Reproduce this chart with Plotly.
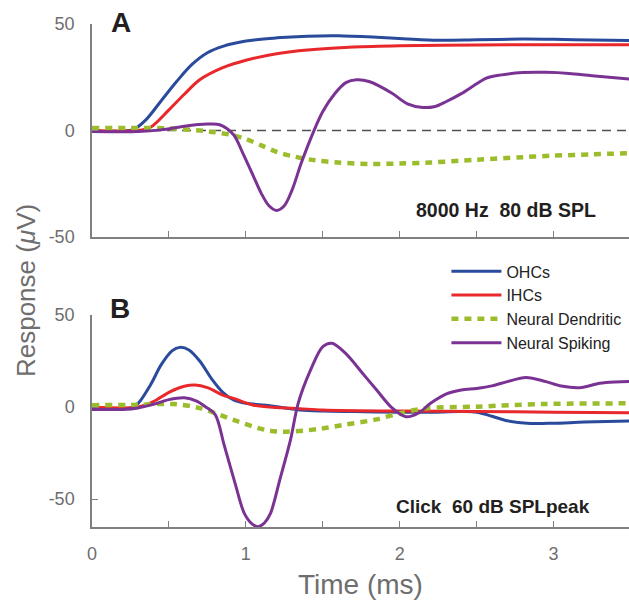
import plotly.graph_objects as go

# ---------------- data ----------------
# Panel A: 8000 Hz 80 dB SPL
a_ohc_t = [0, 0.2, 0.27, 0.35, 0.45, 0.55, 0.65, 0.75, 0.85, 1.0, 1.2, 1.4, 1.6, 1.85, 2.05, 2.25, 2.5, 2.8, 3.0, 3.25, 3.5]
a_ohc_v = [-0.3, -0.3, 0.5, 5, 14, 23, 31, 36.5, 39.5, 42, 43.5, 44.3, 44.5, 43.8, 43, 42.4, 42.6, 42.9, 42.8, 42.5, 42.3]

a_ihc_t = [0, 0.3, 0.38, 0.5, 0.6, 0.7, 0.85, 1.0, 1.2, 1.4, 1.7, 2.0, 2.5, 3.0, 3.5]
a_ihc_v = [0, 0, 1.5, 9.7, 17, 23.8, 29.5, 33, 36, 37.8, 39.2, 39.8, 40.2, 40.3, 40.3]

a_den_t = [0, 0.3, 0.5, 0.7, 0.8, 0.9, 1.0, 1.1, 1.2, 1.3, 1.45, 1.6, 1.8, 2.0, 2.2, 2.5, 2.8, 3.0, 3.25, 3.5]
a_den_v = [1.2, 1.2, 1.0, 0, -0.8, -2, -4, -7, -10, -12, -14, -15, -15.7, -15.5, -15, -13.7, -12.5, -11.8, -11.2, -10.6]

a_spk_t = [0, 0.3, 0.45, 0.6, 0.75, 0.83, 0.92, 0.98, 1.05, 1.1, 1.15, 1.2, 1.25, 1.3, 1.36, 1.44, 1.5, 1.58, 1.65, 1.72, 1.8, 1.95, 2.05, 2.15, 2.23, 2.3, 2.4, 2.48, 2.56, 2.65, 2.8, 2.95, 3.1, 3.25, 3.5]
a_spk_v = [-0.5, -0.5, 0.3, 2, 3, 2.7, -2, -10.6, -21.6, -29.5, -35.3, -37.5, -35.3, -28, -15.3, -0.5, 8.9, 17.5, 22.5, 23.8, 23, 17.5, 12.5, 10.8, 11.3, 13.5, 17.3, 21, 24.5, 26, 27.2, 27.3, 26.8, 25.7, 24.1]

# Panel B: Click 60 dB SPLpeak
b_ohc_t = [0, 0.25, 0.3, 0.38, 0.45, 0.52, 0.57, 0.63, 0.7, 0.78, 0.85, 0.92, 1.0, 1.13, 1.35, 1.5, 1.7, 2.0, 2.2, 2.4, 2.5, 2.6, 2.7, 2.85, 3.0, 3.2, 3.5]
b_ohc_v = [-0.5, -0.5, 2, 12, 23, 30.5, 32.4, 31, 25, 15, 8, 3.8, 2, 1, -1.6, -2.2, -2.5, -2.9, -2.8, -2.5, -2.8, -5, -7.5, -8.9, -8.8, -8.2, -7.6]

b_ihc_t = [0, 0.3, 0.4, 0.5, 0.6, 0.67, 0.75, 0.85, 0.92, 1.05, 1.2, 1.35, 1.5, 2.0, 2.5, 3.0, 3.5]
b_ihc_v = [0, 0, 3, 8, 11.3, 12, 10.5, 6.5, 4.7, 1, -0.3, -0.9, -1.6, -2.2, -2.4, -2.8, -3.1]

b_den_t = [0, 0.3, 0.53, 0.7, 0.92, 1.13, 1.26, 1.47, 1.63, 1.85, 2.0, 2.17, 2.5, 2.93, 3.5]
b_den_v = [1, 1.2, 1.6, -0.6, -7, -12.5, -13.4, -12, -9.8, -6.7, -3.4, -0.7, 0.2, 1.6, 2]

b_spk_t = [0, 0.2, 0.3, 0.4, 0.5, 0.6, 0.68, 0.74, 0.8, 0.86, 0.93, 0.99, 1.04, 1.08, 1.12, 1.16, 1.22, 1.29, 1.34, 1.42, 1.5, 1.56, 1.65, 1.75, 1.85, 1.95, 2.04, 2.12, 2.2, 2.3, 2.4, 2.5, 2.6, 2.7, 2.82, 2.95, 3.05, 3.17, 3.3, 3.4, 3.5]
b_spk_v = [-1.3, -1.3, -0.5, 1.5, 4, 5, 3.2, 0, -4, -21, -41.5, -57.8, -63.5, -65, -63, -57.8, -39.7, -17.9, 2, 20, 32.8, 34.6, 29, 19.2, 9.2, -0.5, -5.3, -3.4, 2, 7, 9.2, 10.1, 11.5, 13.8, 16, 13.8, 11.4, 10.5, 12.9, 13.6, 13.8]

series_names = ["OHCs", "IHCs", "Neural Dendritic", "Neural Spiking"]
x_tickvals = [0, 0.5, 1, 1.5, 2, 2.5, 3, 3.5]
x_ticktext = ["0", "", "1", "", "2", "", "3", ""]
y_tickvals = [-50, 0, 50]
y_ticktext = ["-50", "0", "50"]

# ---------------- styling ----------------
colors = ["#2a4a9c", "#e8282b", "#9bbd2c", "#7b3393"]
widths = [3, 3, 4.5, 3]
dashes = ["solid", "solid", "7px,6px", "solid"]
FONT = "Liberation Sans, Arial, sans-serif"
AX = "#808080"
TXT = "#6e6e6e"

fig = go.Figure()

panelA = [(a_ohc_t, a_ohc_v), (a_ihc_t, a_ihc_v), (a_den_t, a_den_v), (a_spk_t, a_spk_v)]
panelB = [(b_ohc_t, b_ohc_v), (b_ihc_t, b_ihc_v), (b_den_t, b_den_v), (b_spk_t, b_spk_v)]

for i, (t, v) in enumerate(panelA):
    fig.add_trace(go.Scatter(x=t, y=v, mode="lines", name=series_names[i],
                             line=dict(color=colors[i], width=widths[i], dash=dashes[i], shape="spline", smoothing=0.9),
                             xaxis="x", yaxis="y", showlegend=False))
for i, (t, v) in enumerate(panelB):
    fig.add_trace(go.Scatter(x=t, y=v, mode="lines", name=series_names[i],
                             line=dict(color=colors[i], width=widths[i], dash=dashes[i], shape="spline", smoothing=0.9),
                             xaxis="x2", yaxis="y2", showlegend=True, legendgroup=series_names[i]))

# zero line in panel A
fig.add_shape(type="line", xref="x", yref="y", x0=0, x1=3.5, y0=0, y1=0,
              line=dict(color="#505050", width=1.3, dash="9px,6px"), layer="below")

axis_common = dict(showline=True, linecolor=AX, linewidth=1.5, ticks="inside", ticklen=6,
                   tickcolor=AX, tickwidth=1.2, showgrid=False, zeroline=False,
                   tickfont=dict(family=FONT, size=18, color=TXT))

fig.update_layout(
    width=629, height=602,
    margin=dict(l=92, r=0, t=24, b=75),
    paper_bgcolor="white", plot_bgcolor="white",
    xaxis=dict(domain=[0, 1], range=[0, 3.49], anchor="y", tickvals=x_tickvals,
               showticklabels=False, **axis_common),
    yaxis=dict(domain=[0.5765, 1], range=[-50, 50], anchor="x", tickvals=y_tickvals,
               ticktext=y_ticktext, ticklabelstandoff=12, **axis_common),
    xaxis2=dict(domain=[0, 1], range=[0, 3.49], anchor="y2", tickvals=x_tickvals,
                ticktext=x_ticktext, ticklabelstandoff=10, **axis_common),
    yaxis2=dict(domain=[0, 0.4215], range=[-65.2, 50], anchor="x2", tickvals=y_tickvals,
                ticktext=y_ticktext, ticklabelstandoff=12, **axis_common),
    legend=dict(x=0.66, y=0.542, xanchor="left", yanchor="top",
                font=dict(family=FONT, size=16, color="#222222"),
                bgcolor="rgba(0,0,0,0)", tracegroupgap=0, itemwidth=50),
    showlegend=True,
)

annots = [
    dict(text="<b>A</b>", x=0.054, y=1.002, size=28, color="#231f20"),
    dict(text="<b>B</b>", x=0.052, y=0.4334, size=28, color="#231f20"),
    dict(text="<b>8000 Hz  80 dB SPL</b>", x=0.771, y=0.630, size=19.5, color="#231f20"),
    dict(text="<b>Click  60 dB SPLpeak</b>", x=0.747, y=0.0417, size=19, color="#231f20"),
    dict(text="Time (ms)", x=0.5, y=-0.1153, size=28, color=TXT),
]
for a in annots:
    fig.add_annotation(text=a["text"], x=a["x"], y=a["y"], xref="paper", yref="paper",
                       showarrow=False, xanchor="center", yanchor="middle",
                       font=dict(family=FONT, size=a["size"], color=a["color"]))
fig.add_annotation(text="Response (<i>μ</i>V)", x=-0.123, y=0.471, xref="paper", yref="paper",
                   showarrow=False, textangle=-90, xanchor="center", yanchor="middle",
                   font=dict(family=FONT, size=26, color=TXT))

fig.write_html("out.html", config={"displayModeBar": False},
               post_script="document.body.style.margin='0';document.body.style.overflow='hidden';")
